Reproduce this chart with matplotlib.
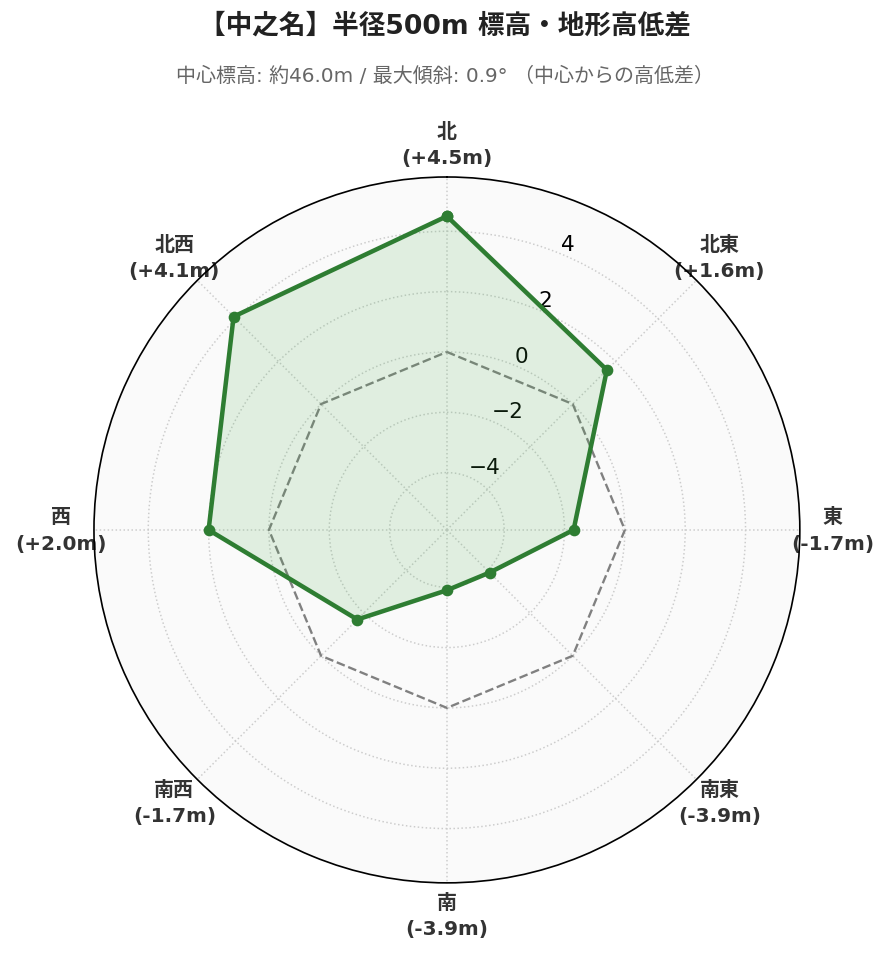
import numpy as np
import matplotlib.pyplot as plt

directions = ['北', '北東', '東', '南東', '南', '南西', '西', '北西']
diffs = [4.5, 1.6, -1.7, -3.9, -3.9, -1.7, 2.0, 4.1]
rticks = [-4, -2, 0, 2, 4]
title = '【中之名】半径500m 標高・地形高低差'
subtitle = '中心標高: 約46.0m / 最大傾斜: 0.9° （中心からの高低差）'

plt.rcParams['font.family'] = ['DejaVu Sans', 'Noto Sans CJK JP']

green = '#2e7d32'

fig = plt.figure(figsize=(8.89 / 1.2, 9.62 / 1.2), dpi=120)
ax = fig.add_axes([0.1057, 0.0811, 0.794, 0.734], projection='polar')
ax.set_facecolor('#fafafa')
ax.set_theta_zero_location('N')
ax.set_theta_direction(-1)

angles = np.linspace(0, 2 * np.pi, len(directions), endpoint=False)
ang_c = np.append(angles, angles[0])
vals_c = np.append(diffs, diffs[0])
zero_c = np.zeros_like(ang_c)

ax.plot(ang_c, zero_c, '--', color='gray', lw=1.4, zorder=2)
ax.fill(ang_c, vals_c, color='#4caf50', alpha=0.15, zorder=3)
ax.plot(ang_c, vals_c, '-o', color=green, lw=2.7, ms=6, zorder=4)

ax.set_ylim(min(diffs) - 2.0, max(diffs) + 1.3)
ax.set_rticks(rticks)
ax.set_rlabel_position(22.5)
for t in ax.get_yticklabels():
    t.set_fontsize(13)

labels = [f'{d}\n({v:+.1f}m)' for d, v in zip(directions, diffs)]
ax.set_xticks(angles)
ax.set_xticklabels(labels, fontsize=12, fontweight='bold', color='#333333', linespacing=1.5)
ax.tick_params(axis='x', pad=9)

ax.grid(True, color='#cccccc', linestyle=':', linewidth=0.9)
ax.spines['polar'].set_color('black')
ax.spines['polar'].set_linewidth(1.0)

fig.text(0.5, 0.972, title, ha='center', va='center', fontsize=16, fontweight='bold', color='#222222')
fig.text(0.5, 0.921, subtitle, ha='center', va='center', fontsize=12, color='#666666')

fig.savefig('out.png', dpi=120, facecolor='white')
